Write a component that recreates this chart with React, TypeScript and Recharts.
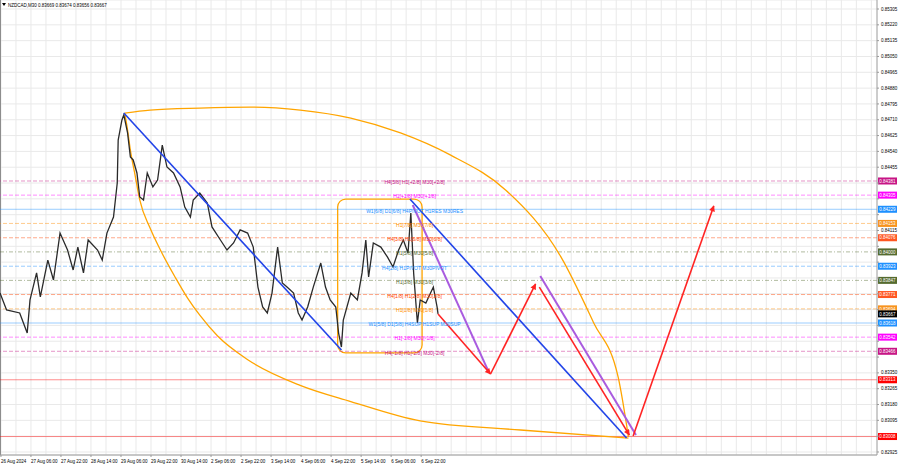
import React from 'react';
import {
  ComposedChart,
  Line,
  Scatter,
  XAxis,
  YAxis,
  CartesianGrid,
  ReferenceLine,
  ReferenceArea,
} from 'recharts';

const FONT = '"Liberation Sans", Arial, sans-serif';

// NZDCAD M30, sampled closes. bar = M30 bar number from the left edge of the window
const priceBars = [
  0, 7, 21, 29, 32, 39, 43, 51, 57, 64, 72, 78, 83, 89, 94, 104, 109, 114, 121, 125,
  126, 130, 132, 136, 139, 142, 146, 149, 153, 157, 163, 168, 173, 178, 185, 192, 197, 203, 206, 213,
  221, 226, 235, 242, 249, 256, 264, 270, 275, 280, 285, 290, 296, 301, 306, 313, 318, 322, 328, 334,
  342, 347, 352, 358, 361, 364, 366, 374, 381, 386, 390, 393, 398, 406, 413, 419, 425, 430, 435, 438,
  441, 445, 448, 454, 459, 462, 466, 467,
];
const priceVals = [
  0.83779, 0.83688, 0.83672, 0.83564, 0.83742, 0.83887, 0.83758, 0.83956, 0.83849, 0.84101,
  0.8401, 0.83903, 0.84026, 0.83887, 0.84064, 0.8401, 0.83956, 0.84101, 0.84187, 0.8437,
  0.84601, 0.84709, 0.84736, 0.84639, 0.8451, 0.84494, 0.84424, 0.84295, 0.84279, 0.84424,
  0.84349, 0.84386, 0.84574, 0.84456, 0.84424, 0.84349, 0.84241, 0.84187, 0.84279, 0.84316,
  0.84263, 0.84134, 0.84064, 0.8401, 0.84048, 0.84118, 0.84101, 0.84026, 0.83811, 0.83704,
  0.83672, 0.83779, 0.84026, 0.83833, 0.83811, 0.83779, 0.83672, 0.83634, 0.83704, 0.83811,
  0.8394, 0.83811, 0.83742, 0.83704, 0.83564, 0.83489, 0.83634, 0.83779, 0.83742, 0.83887,
  0.84064, 0.83865, 0.84048, 0.84026, 0.83973, 0.83919, 0.8401, 0.84064, 0.83994, 0.84209,
  0.83887, 0.83618, 0.83742, 0.83725, 0.83779, 0.83811, 0.83704, 0.83667,
];

const timeTicks = [1, 33, 65, 97, 129, 161, 193, 225, 257, 289, 321, 353, 385, 417, 449];
const timeLabels = [
  '26 Aug 2024', '27 Aug 06:00', '27 Aug 22:00', '28 Aug 14:00', '29 Aug 06:00',
  '29 Aug 22:00', '30 Aug 14:00', '2 Sep 06:00', '2 Sep 22:00', '3 Sep 14:00',
  '4 Sep 06:00', '4 Sep 22:00', '5 Sep 14:00', '6 Sep 06:00', '6 Sep 22:00',
];

const priceTicks = [
  0.85305, 0.8522, 0.85135, 0.8505, 0.84965, 0.8488, 0.84795, 0.8471, 0.84625, 0.8454,
  0.84455, 0.8437, 0.84285, 0.842, 0.84115, 0.8403, 0.83945, 0.8386, 0.83775, 0.8369,
  0.83605, 0.8352, 0.83435, 0.8335, 0.83265, 0.8318, 0.83095, 0.8301, 0.82925,
];

// murrey levels
const levelPrices = [
  0.84381, 0.84305, 0.84229, 0.84153, 0.84076, 0.84, 0.83923,
  0.83847, 0.83771, 0.83694, 0.83618, 0.83542, 0.83466,
];
const levelNames = [
  'H4[5/8] H1[+2/8] M30[+2/8]',
  'H1[+1/8] M30[+1/8]',
  'W1[6/8] D1[6/8] H4PIVOT H1RES M30RES',
  'H1[7/8] M30[7/8]',
  'H4[3/8] H1[6/8] M30[6/8]',
  'H1[5/8] M30[5/8]',
  'H4[2/8] H1PIVOT M30PIVOT',
  'H1[3/8] M30[3/8]',
  'H4[1/8] H1[2/8] M30[2/8]',
  'H1[1/8] M30[1/8]',
  'W1[5/8] D1[5/8] H4SUP H1SUP M30SUP',
  'H1[-1/8] M30[-1/8]',
  'H4[-1/8] H1[-2/8] M30[-2/8]',
];
const levelLabelBar = 442;

const redLevels = [0.83313, 0.83008];
const lastPrice = 0.83667;

// drawings
const blue1Bars = [132, 364];
const blue1Vals = [0.84746, 0.83473];
const blue2Bars = [437, 668];
const blue2Vals = [0.84284, 0.83];
const purple1Bars = [440, 521];
const purple1Vals = [0.84252, 0.83355];
const purple2Bars = [576, 678];
const purple2Vals = [0.8387, 0.83016];
const red1Bars = [467, 523];
const red1Vals = [0.83666, 0.83344];
const red2Bars = [523, 571];
const red2Vals = [0.83344, 0.83828];
const red3Bars = [575, 671];
const red3Vals = [0.83811, 0.83016];
const red4Bars = [675, 761];
const red4Vals = [0.83011, 0.84247];

const arcUpBars = [133, 160, 213, 267, 320, 374, 427, 480, 539, 598, 633, 659, 670];
const arcUpVals = [
  0.84746, 0.84762, 0.84773, 0.84778, 0.84762, 0.84719, 0.84639,
  0.84521, 0.84333, 0.83973, 0.83618, 0.83328, 0.83005,
];
const arcLowBars = [133, 136, 139, 144, 149, 160, 171, 187, 200, 213, 232, 265, 320, 374, 448, 555, 670];
const arcLowVals = [
  0.84746, 0.84655, 0.84547, 0.84413, 0.84279, 0.84128, 0.8401, 0.83862, 0.83752,
  0.8366, 0.83548, 0.83418, 0.83283, 0.83196, 0.83092, 0.83043, 0.83,
];

const boxBars = [360, 450];
const boxVals = [0.83457, 0.84284];

// ---- styles ----
const PLOT_W = 877;
const PLOT_H = 455;
const BAR_MAX = 935;
const P_MIN = 0.829088;
const P_MAX = 0.853534;

const levelStyle = [
  { c: '#C71585', d: '4 2' },
  { c: '#FF00FF', d: '4 2' },
  { c: '#1E90FF', d: undefined },
  { c: '#FF8C00', d: '4 2' },
  { c: '#FF4500', d: '4 2' },
  { c: '#556B2F', d: '4 2 1 2' },
  { c: '#1E90FF', d: '4 2' },
  { c: '#556B2F', d: '4 2 1 2' },
  { c: '#FF4500', d: '4 2' },
  { c: '#FF8C00', d: '4 2' },
  { c: '#1E90FF', d: undefined },
  { c: '#FF00FF', d: '4 2' },
  { c: '#C71585', d: '4 2' },
];
const boxFill = [
  '#C71585', '#FF00FF', '#1E90FF', '#F7931E', '#FF5722', '#556B2F', '#1E90FF',
  '#556B2F', '#FF5722', '#F7931E', '#1E90FF', '#FF00FF', '#C71585',
];

const pts = (xs: number[], ys: number[]) => xs.map((bar, i) => ({ bar, p: ys[i] }));

const priceData = pts(priceBars, priceVals);
const levelData = levelPrices.map((p, i) => ({ bar: levelLabelBar, p, name: levelNames[i], i }));

// axis labels covered by the coloured price boxes are not drawn
const boxPrices = [...levelPrices, ...redLevels, lastPrice];
const priceToY = (p: number) => ((P_MAX - p) / (P_MAX - P_MIN)) * PLOT_H;
const hiddenTick = (p: number) => boxPrices.some((b) => Math.abs(priceToY(b) - priceToY(p)) < 6.5);

const PriceBox = (props: any) => {
  const { viewBox, text, fill } = props;
  if (!viewBox) return null;
  const x = viewBox.x + viewBox.width + 1;
  const y = viewBox.y;
  return (
    <g>
      <rect x={x} y={y - 3.5} width={19} height={7} fill={fill} />
      <text x={x + 1.3} y={y + 1.7} fontSize={4.5} fontFamily={FONT} fill="#fff">
        {text}
      </text>
    </g>
  );
};

const TimeTick = (props: any) => {
  const { x, y, payload } = props;
  const i = timeTicks.indexOf(payload.value);
  return (
    <text x={x} y={y + 4} fontSize={4.5} fontFamily={FONT} fill="#000" textAnchor="start">
      {timeLabels[i]}
    </text>
  );
};

const PriceTick = (props: any) => {
  const { x, y, payload } = props;
  if (hiddenTick(payload.value)) return null;
  return (
    <text x={x} y={y + 1.6} fontSize={4.5} fontFamily={FONT} fill="#000" textAnchor="start">
      {payload.value.toFixed(5)}
    </text>
  );
};

const LevelText = (props: any) => {
  const { cx, cy, payload } = props;
  return (
    <text
      x={cx}
      y={cy + 3.3}
      fontSize={5}
      fontFamily={FONT}
      fill={levelStyle[payload.i].c}
      textAnchor="middle"
    >
      {payload.name}
    </text>
  );
};

const RoundBox = (props: any) => {
  const { x, y, width, height } = props;
  return (
    <rect x={x} y={y} width={width} height={height} rx={8} ry={8}
      fill="none" stroke="#FFA500" strokeWidth={1.3} />
  );
};

const vGrid: number[] = [];
for (let b = 1; b < BAR_MAX; b += 16) vGrid.push((b * PLOT_W) / BAR_MAX);

const seg = (key: string, data: any[], color: string, width: number, arrow?: boolean) => (
  <Line
    key={key}
    data={data}
    dataKey="p"
    type="linear"
    stroke={color}
    strokeWidth={width}
    dot={false}
    activeDot={false}
    isAnimationActive={false}
    markerEnd={arrow ? 'url(#arrowRed)' : undefined}
  />
);

export default function App() {
  return (
    <div style={{ position: 'absolute', left: 0, top: 0, width: 900, height: 468, background: '#fff' }}>
      <ComposedChart
        width={900}
        height={468}
        data={priceData}
        margin={{ top: 0, right: 0, bottom: 0, left: 0 }}
      >
        <CartesianGrid stroke="#e9e9e9" verticalPoints={vGrid} />
        <XAxis
          type="number"
          dataKey="bar"
          domain={[0, BAR_MAX]}
          ticks={timeTicks}
          interval={0}
          allowDataOverflow
          height={13}
          tickSize={2}
          tickMargin={2}
          tick={<TimeTick />}
          stroke="#9a9a9a"
        />
        <YAxis
          orientation="right"
          type="number"
          domain={[P_MIN, P_MAX]}
          ticks={priceTicks}
          interval={0}
          allowDataOverflow
          width={23}
          tickSize={2}
          tickMargin={2}
          stroke="#9a9a9a"
          tick={<PriceTick />}
        />
        <ReferenceLine x={0.5} stroke="#8a8a8a" />
        {levelPrices.map((v, i) => (
          <ReferenceLine
            key={'lv' + i}
            y={v}
            stroke={levelStyle[i].c}
            strokeOpacity={0.45}
            strokeDasharray={levelStyle[i].d}
            label={<PriceBox text={v.toFixed(5)} fill={boxFill[i]} />}
          />
        ))}
        {redLevels.map((v, i) => (
          <ReferenceLine
            key={'rl' + i}
            y={v}
            stroke="#FF0000"
            strokeOpacity={0.45}
            label={<PriceBox text={v.toFixed(5)} fill="#FF0000" />}
          />
        ))}
        <ReferenceLine
          y={lastPrice}
          stroke="none"
          label={<PriceBox text={lastPrice.toFixed(5)} fill="#000" />}
        />
        <Scatter data={levelData} dataKey="p" shape={<LevelText />} isAnimationActive={false} />
        <ReferenceArea
          x1={boxBars[0]}
          x2={boxBars[1]}
          y1={boxVals[0]}
          y2={boxVals[1]}
          shape={<RoundBox />}
        />
        <Line
          data={pts(arcUpBars, arcUpVals)}
          dataKey="p"
          type="monotone"
          stroke="#FFA500"
          strokeWidth={1.3}
          dot={false}
          activeDot={false}
          isAnimationActive={false}
        />
        <Line
          data={pts(arcLowBars, arcLowVals)}
          dataKey="p"
          type="monotone"
          stroke="#FFA500"
          strokeWidth={1.3}
          dot={false}
          activeDot={false}
          isAnimationActive={false}
        />
        <Line
          dataKey="p"
          type="linear"
          stroke="#2a2a2a"
          strokeWidth={1.3}
          dot={false}
          activeDot={false}
          isAnimationActive={false}
        />
        {seg('b1', pts(blue1Bars, blue1Vals), '#2244E8', 1.6)}
        {seg('b2', pts(blue2Bars, blue2Vals), '#2244E8', 1.6)}
        {seg('p1', pts(purple1Bars, purple1Vals), '#A95BDF', 2)}
        {seg('p2', pts(purple2Bars, purple2Vals), '#A95BDF', 2)}
        {seg('r1', pts(red1Bars, red1Vals), '#FF2424', 1.6, true)}
        {seg('r2', pts(red2Bars, red2Vals), '#FF2424', 1.6, true)}
        {seg('r3', pts(red3Bars, red3Vals), '#FF2424', 1.6, true)}
        {seg('r4', pts(red4Bars, red4Vals), '#FF2424', 1.6, true)}
      </ComposedChart>
      <svg
        width={900}
        height={468}
        style={{ position: 'absolute', left: 0, top: 0, pointerEvents: 'none' }}
      >
        <defs>
          <marker
            id="arrowRed"
            viewBox="0 0 10 10"
            refX={9}
            refY={5}
            markerWidth={7}
            markerHeight={6}
            markerUnits="userSpaceOnUse"
            orient="auto"
          >
            <path d="M0,0 L10,5 L0,10 z" fill="#FF2424" />
          </marker>
        </defs>
        <path d="M2,3 L6,3 L4,6 z" fill="#000" />
        <text x={8} y={6.5} fontSize={4.5} fontFamily={FONT} fill="#000">
          NZDCAD,M30  0.83669 0.83674 0.83656 0.83667
        </text>
      </svg>
    </div>
  );
}
